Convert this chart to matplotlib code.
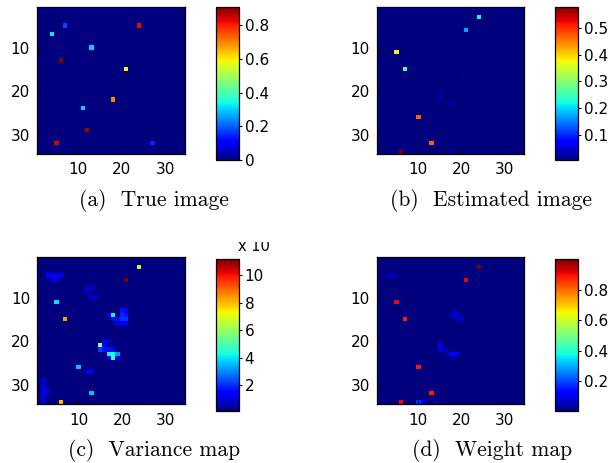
import numpy as np
import matplotlib
matplotlib.use("Agg")
import matplotlib.pyplot as plt
from matplotlib.transforms import Bbox, TransformedBbox

N = 34
TICKS = [10, 20, 30]

# (a) True image  (row, col, value), 1-indexed pixels
a_rows = [5, 7, 5, 10, 13, 15, 22, 24, 29, 32, 32]
a_cols = [7, 4, 24, 13, 6, 21, 18, 11, 12, 5, 27]
a_vals = [0.18, 0.32, 0.82, 0.30, 0.91, 0.60, 0.70, 0.30, 0.88, 0.83, 0.15]
a_bg = 0.0
a_cbticks = [0, 0.2, 0.4, 0.6, 0.8]
a_cblabels = ["0", "0.2", "0.4", "0.6", "0.8"]

# (b) Estimated image
b_rows = [3, 6, 11, 15, 26, 32, 34, 21, 22, 23, 23, 8, 16]
b_cols = [24, 21, 5, 7, 10, 13, 6, 15, 15, 17, 18, 12, 20]
b_vals = [0.22, 0.17, 0.38, 0.26, 0.47, 0.47, 0.58, 0.028, 0.025, 0.025, 0.028, 0.015, 0.015]
b_bg = 0.006
b_cbticks = [0.1, 0.2, 0.3, 0.4, 0.5]
b_cblabels = ["0.1", "0.2", "0.3", "0.4", "0.5"]

# (c) Variance map (x 10^-3)
c_rows = [3, 6, 11, 15, 14, 21, 26, 32, 34,
          13, 13, 14, 14, 14, 15, 15, 15, 15, 16, 16, 16,
          22, 22, 21, 20, 20,
          23, 23, 23, 24, 22, 22, 24, 24,
          5, 5, 5, 5, 6, 6,
          8, 8, 9, 10, 10,
          27, 27,
          29, 30, 31, 32, 33, 34, 31, 32]
c_cols = [24, 21, 5, 7, 18, 15, 10, 13, 6,
          20, 21, 17, 20, 21, 18, 19, 20, 21, 19, 20, 21,
          15, 16, 16, 16, 17,
          17, 18, 19, 18, 17, 18, 17, 19,
          3, 4, 5, 6, 4, 5,
          12, 13, 12, 13, 14,
          12, 13,
          2, 2, 2, 2, 2, 2, 3, 3]
c_vals = [6.5, 11.16, 4.0, 8.3, 4.2, 6.0, 3.6, 3.6, 8.0,
          1.7, 1.5, 1.3, 1.9, 1.7, 1.5, 1.7, 2.0, 2.1, 1.1, 1.2, 1.1,
          2.2, 1.7, 1.4, 1.1, 1.0,
          4.2, 4.5, 3.2, 4.6, 1.7, 1.5, 1.5, 1.3,
          1.4, 1.5, 1.5, 1.4, 0.9, 0.9,
          0.8, 0.8, 0.7, 0.9, 0.8,
          1.0, 1.0,
          0.9, 1.0, 1.0, 1.1, 1.0, 0.9, 0.8, 0.8]
c_bg = 0.12
c_cbticks = [2, 4, 6, 8, 10]
c_cblabels = ["2", "4", "6", "8", "10"]

# (d) Weight map
d_rows = [3, 6, 11, 15, 26, 32, 34,
          14, 14, 15, 15, 13, 21, 22, 22, 23, 23, 24, 23,
          34, 34, 34, 5, 5, 5]
d_cols = [24, 21, 5, 7, 10, 13, 6,
          18, 19, 19, 20, 18, 15, 15, 16, 18, 19, 18, 17,
          10, 11, 14, 3, 4, 5]
d_vals = [1.0, 0.9, 0.9, 0.88, 0.88, 0.88, 0.9,
          0.10, 0.08, 0.07, 0.07, 0.05, 0.12, 0.08, 0.07, 0.12, 0.10, 0.08, 0.08,
          0.18, 0.13, 0.05, 0.05, 0.05, 0.05]
d_bg = 0.005
d_cbticks = [0.2, 0.4, 0.6, 0.8]
d_cblabels = ["0.2", "0.4", "0.6", "0.8"]

captions = ["(a)  True image", "(b)  Estimated image", "(c)  Variance map", "(d)  Weight map"]

W, H = 613, 463


def rect(x0, y0, x1, y1):
    return [x0 / W, 1 - y1 / H, (x1 - x0) / W, (y1 - y0) / H]


def grid(rows, cols, vals, bg):
    g = np.full((N, N), bg, dtype=float)
    for r, c, v in zip(rows, cols, vals):
        g[r - 1, c - 1] = v
    return g


fig = plt.figure(figsize=(W / 100, H / 100), dpi=100)

panels = [
    (grid(a_rows, a_cols, a_vals, a_bg), a_cbticks, a_cblabels,
     rect(37, 6.7, 185, 154), rect(216, 6.7, 239, 160), (154, 206)),
    (grid(b_rows, b_cols, b_vals, b_bg), b_cbticks, b_cblabels,
     rect(376.7, 6.7, 524, 154), rect(555, 6.7, 578.3, 160), (491, 206)),
    (grid(c_rows, c_cols, c_vals, c_bg), c_cbticks, c_cblabels,
     rect(37.3, 256.7, 185, 404.3), rect(216, 259, 239, 411), (154, 456)),
    (grid(d_rows, d_cols, d_vals, d_bg), d_cbticks, d_cblabels,
     rect(376.7, 256.7, 524, 404.3), rect(555, 259, 578.3, 411), (492, 456)),
]

tickfont = dict(family="DejaVu Sans", size=11)

for (img, cbt, cbl, axr, cbr, cap), text in zip(panels, captions):
    ax = fig.add_axes(axr)
    im = ax.imshow(img, cmap="jet", interpolation="nearest", aspect="auto",
                   extent=(0.5, N + 0.5, N + 0.5, 0.5))
    ax.set_xticks(TICKS)
    ax.set_yticks(TICKS)
    ax.set_xticklabels([str(t) for t in TICKS], **tickfont)
    ax.set_yticklabels([str(t) for t in TICKS], **tickfont)
    ax.tick_params(direction="in", length=3, width=0.6, color="black")
    ax.tick_params(axis="x", pad=6)
    ax.tick_params(axis="y", pad=5)
    for s in ax.spines.values():
        s.set_linewidth(0.9)
    cax = fig.add_axes(cbr)
    cb = fig.colorbar(im, cax=cax)
    cb.set_ticks(cbt)
    cb.set_ticklabels(cbl)
    for lab in cax.get_yticklabels():
        lab.set_fontfamily("DejaVu Sans")
        lab.set_fontsize(11)
    cax.tick_params(direction="out", length=2, width=0.8, pad=2)
    cb.outline.set_linewidth(0.9)
    fig.text(cap[0] / W, 1 - cap[1] / H, text, ha="center", va="baseline",
             family="cmr10", fontsize=15.5)

# clipped exponent label of the variance colorbar
t = fig.text(238 / W, 1 - 251 / H, "x 10", ha="left", va="baseline",
             family="DejaVu Sans", fontsize=10.5)
clip = Bbox([[230 / W, 1 - 262 / H], [300 / W, 1 - 242 / H]])
t.set_clip_box(TransformedBbox(clip, fig.transFigure))
t.set_clip_on(True)

fig.savefig("out.png", dpi=100)
